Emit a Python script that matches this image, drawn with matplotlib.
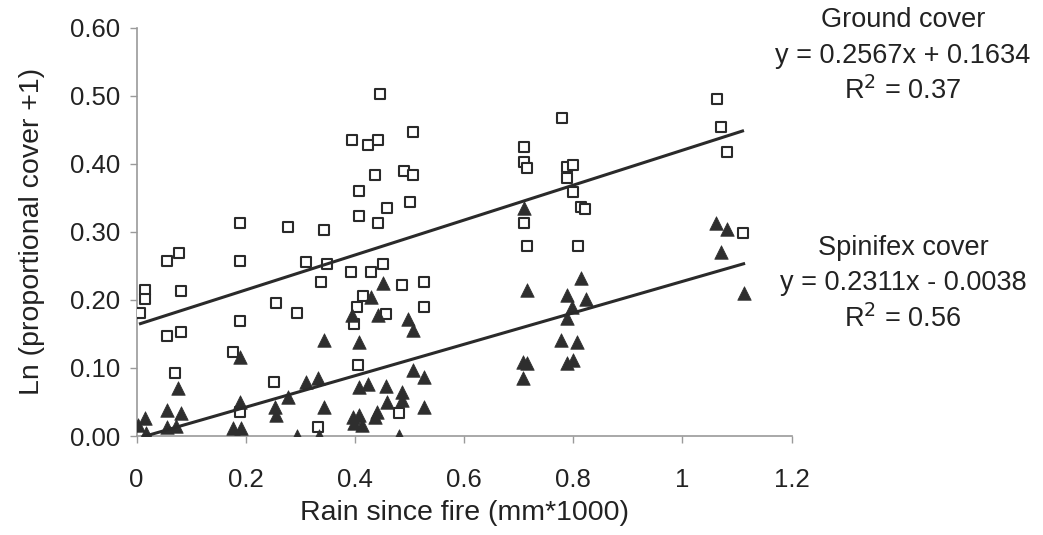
import numpy as np
import matplotlib as mpl; mpl.use("Agg")
import matplotlib.pyplot as plt

mpl.rcParams.update({
    "font.family": ["Liberation Sans", "DejaVu Sans"],
    "font.size": 14,
})

# ── Data ──────────────────────────────────────────────────────────────────────
ground_x = [0.007, 0.016, 0.016, 0.055, 0.077, 0.081, 0.055, 0.082, 0.071,
            0.190, 0.190, 0.189, 0.176, 0.189, 0.278, 0.256, 0.293, 0.251,
            0.311, 0.337, 0.333, 0.445, 0.394, 0.423, 0.443, 0.507, 0.436,
            0.489, 0.507, 0.408, 0.408, 0.458, 0.500, 0.443, 0.344, 0.348,
            0.392, 0.429, 0.451, 0.487, 0.527, 0.414, 0.403, 0.456, 0.527,
            0.399, 0.405, 0.480, 0.709, 0.709, 0.716, 0.709, 0.716, 0.780,
            0.788, 0.799, 0.788, 0.800, 0.815, 0.822, 0.808, 1.064, 1.070,
            1.081, 1.110]
ground_y = [0.181, 0.215, 0.201, 0.257, 0.269, 0.213, 0.147, 0.153, 0.093,
            0.313, 0.257, 0.169, 0.124, 0.035, 0.307, 0.196, 0.181, 0.079,
            0.256, 0.226, 0.013, 0.503, 0.435, 0.428, 0.435, 0.447, 0.384,
            0.390, 0.384, 0.360, 0.324, 0.335, 0.344, 0.313, 0.303, 0.253,
            0.241, 0.241, 0.253, 0.222, 0.226, 0.206, 0.190, 0.179, 0.190,
            0.165, 0.104, 0.034, 0.425, 0.403, 0.394, 0.313, 0.279, 0.468,
            0.396, 0.399, 0.379, 0.359, 0.337, 0.334, 0.279, 0.496, 0.454,
            0.418, 0.299]

spin_x = [0.015, 0.002, 0.018, 0.055, 0.082, 0.055, 0.073, 0.075, 0.189,
          0.189, 0.176, 0.192, 0.253, 0.256, 0.277, 0.311, 0.332, 0.293,
          0.335, 0.344, 0.344, 0.451, 0.430, 0.394, 0.443, 0.498, 0.506,
          0.407, 0.506, 0.527, 0.407, 0.423, 0.456, 0.487, 0.487, 0.458,
          0.441, 0.436, 0.527, 0.396, 0.408, 0.399, 0.412, 0.480, 0.709,
          0.815, 0.716, 0.788, 0.824, 0.797, 0.788, 0.778, 0.806, 0.707,
          0.716, 0.707, 0.788, 0.800, 1.062, 1.082, 1.070, 1.112]
spin_y = [0.026, 0.016, 0.004, 0.038, 0.034, 0.013, 0.015, 0.071, 0.116,
          0.050, 0.012, 0.012, 0.043, 0.031, 0.057, 0.079, 0.085, 0.000,
          0.000, 0.043, 0.141, 0.225, 0.204, 0.178, 0.178, 0.172, 0.156,
          0.138, 0.097, 0.087, 0.072, 0.076, 0.074, 0.065, 0.053, 0.050,
          0.035, 0.028, 0.043, 0.028, 0.031, 0.019, 0.016, 0.000, 0.335,
          0.232, 0.215, 0.207, 0.201, 0.190, 0.174, 0.141, 0.138, 0.109,
          0.107, 0.085, 0.107, 0.112, 0.313, 0.304, 0.271, 0.210]

# fitted trendlines as printed on the chart
ground_fit = (0.2567, 0.1634)
spin_fit = (0.2311, -0.0038)

INK = "#222222"
AXC = "#9a9a9a"

fig = plt.figure(figsize=(10.43, 5.35), dpi=100)
ax = fig.add_axes([0.131, 0.185, 0.628, 0.763])

ax.scatter(ground_x, ground_y, marker="s", s=62, facecolor="white",
           edgecolor="#2a2a2a", linewidth=1.5, zorder=3)
ax.scatter(spin_x, spin_y, marker="^", s=95, color="#2e2e2e",
           edgecolor="#2e2e2e", linewidth=0.5, zorder=4)

for xs, (m, c) in ((ground_x, ground_fit), (spin_x, spin_fit)):
    xx = np.array([min(xs), max(xs)])
    ax.plot(xx, m * xx + c, color="#2a2a2a", lw=2.2, zorder=5)

ax.set_xlim(0, 1.2)
ax.set_ylim(0, 0.6)
ax.set_xticks([0, 0.2, 0.4, 0.6, 0.8, 1.0, 1.2])
ax.set_xticklabels(["0", "0.2", "0.4", "0.6", "0.8", "1", "1.2"])
ax.set_yticks(np.arange(0, 0.61, 0.1))
ax.set_yticklabels([f"{v:.2f}" for v in np.arange(0, 0.61, 0.1)])
for s in ("top", "right"):
    ax.spines[s].set_visible(False)
for s in ("left", "bottom"):
    ax.spines[s].set_color(AXC)
    ax.spines[s].set_linewidth(1.2)
ax.tick_params(axis="both", colors=AXC, labelcolor=INK, labelsize=18.5,
               length=5, width=1)
ax.tick_params(axis="x", pad=18)
ax.tick_params(axis="y", pad=7)
for lab in ax.get_xticklabels() + ax.get_yticklabels():
    lab.set_clip_on(False)
ax.set_xlabel("Rain since fire (mm*1000)", fontsize=20.5, color=INK, labelpad=6)
ax.set_ylabel("Ln (proportional cover +1)", fontsize=20.5, color=INK, labelpad=18)

kw = dict(ha="center", va="center", fontsize=19.5, color=INK)
cx = 903 / 1043
fig.text(cx, 1 - 20 / 535, "Ground cover", **kw)
fig.text(cx, 1 - 56 / 535, "y = 0.2567x + 0.1634", **kw)
fig.text(cx, 1 - 91 / 535, "R$^2$ = 0.37", **kw)
fig.text(cx, 1 - 248 / 535, "Spinifex cover", **kw)
fig.text(cx, 1 - 283 / 535, "y = 0.2311x - 0.0038", **kw)
fig.text(cx, 1 - 319 / 535, "R$^2$ = 0.56", **kw)

fig.savefig("out.png", dpi=100, facecolor="white")
